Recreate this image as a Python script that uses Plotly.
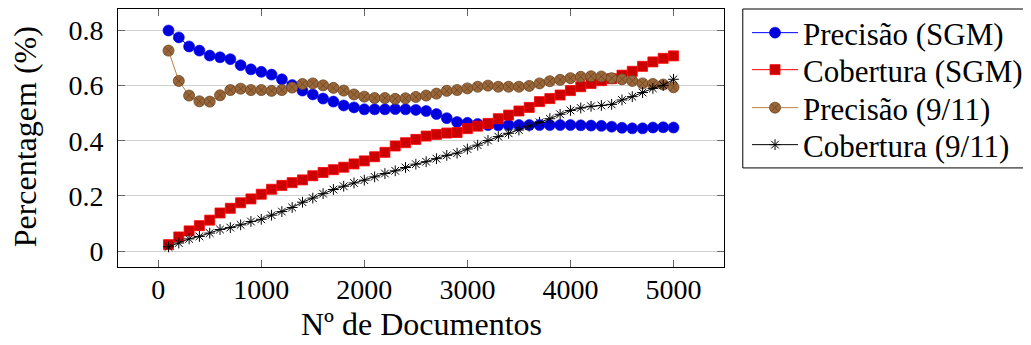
import plotly.graph_objects as go

docs = list(range(100, 5001, 100))

prec_sgm = [0.800, 0.775, 0.742, 0.727, 0.709, 0.703, 0.696, 0.674, 0.659, 0.650,
            0.640, 0.623, 0.602, 0.582, 0.568, 0.553, 0.542, 0.528, 0.521, 0.514,
            0.514, 0.514, 0.515, 0.514, 0.512, 0.508, 0.497, 0.482, 0.468, 0.465,
            0.461, 0.457, 0.456, 0.457, 0.457, 0.457, 0.457, 0.457, 0.457, 0.457,
            0.456, 0.455, 0.454, 0.451, 0.447, 0.445, 0.445, 0.448, 0.449, 0.448]

cob_sgm = [0.023, 0.051, 0.073, 0.092, 0.112, 0.138, 0.155, 0.175, 0.189, 0.206,
           0.224, 0.238, 0.248, 0.258, 0.273, 0.285, 0.295, 0.304, 0.316, 0.327,
           0.342, 0.358, 0.381, 0.393, 0.405, 0.417, 0.423, 0.428, 0.430, 0.444,
           0.453, 0.463, 0.480, 0.493, 0.508, 0.521, 0.542, 0.553, 0.566, 0.582,
           0.596, 0.608, 0.618, 0.625, 0.638, 0.652, 0.670, 0.686, 0.699, 0.708]

prec_911 = [0.727, 0.617, 0.564, 0.543, 0.542, 0.565, 0.584, 0.589, 0.584, 0.584,
            0.581, 0.584, 0.593, 0.606, 0.608, 0.601, 0.592, 0.582, 0.568, 0.560,
            0.555, 0.555, 0.552, 0.554, 0.559, 0.564, 0.571, 0.581, 0.584, 0.590,
            0.596, 0.600, 0.596, 0.596, 0.596, 0.599, 0.608, 0.616, 0.621, 0.627,
            0.632, 0.634, 0.633, 0.627, 0.623, 0.617, 0.608, 0.606, 0.604, 0.594]

cob_911 = [0.015, 0.029, 0.044, 0.053, 0.065, 0.078, 0.085, 0.095, 0.107, 0.115,
           0.130, 0.143, 0.158, 0.177, 0.192, 0.208, 0.223, 0.235, 0.247, 0.257,
           0.269, 0.281, 0.291, 0.303, 0.315, 0.324, 0.335, 0.347, 0.355, 0.370,
           0.384, 0.401, 0.415, 0.427, 0.439, 0.453, 0.467, 0.480, 0.496, 0.510,
           0.519, 0.525, 0.528, 0.532, 0.548, 0.560, 0.575, 0.590, 0.601, 0.623]

x_ticks = [0, 1000, 2000, 3000, 4000, 5000]
y_ticks = [0, 0.2, 0.4, 0.6, 0.8]
y_tick_labels = ["0", "0.2", "0.4", "0.6", "0.8"]

names = ["Precisão (SGM)", "Cobertura (SGM)", "Precisão (9/11)", "Cobertura (9/11)"]
x_title = "Nº de Documentos"
y_title = "Percentagem (%)"

SERIF = '"Liberation Serif", "Times New Roman", Times, serif'

fig = go.Figure()
fig.add_trace(go.Scatter(
    x=docs, y=prec_sgm, name=names[0], mode="lines+markers", legend="legend",
    line=dict(color="#0000ff", width=1),
    marker=dict(symbol="circle", size=11, color="#0000dd", line=dict(color="#0000ff", width=0.6))))
fig.add_trace(go.Scatter(
    x=docs, y=cob_sgm, name=names[1], mode="lines+markers", legend="legend2",
    line=dict(color="#ff0000", width=1),
    marker=dict(symbol="square", size=10, color="#cc0000", line=dict(color="#ff0000", width=0.8))))
fig.add_trace(go.Scatter(
    x=docs, y=prec_911, name=names[2], mode="lines+markers", legend="legend3",
    line=dict(color="#bf8040", width=1),
    marker=dict(symbol="circle-x", size=11, color="#99663a", line=dict(color="#6b4420", width=0.8))))
fig.add_trace(go.Scatter(
    x=docs, y=cob_911, name=names[3], mode="lines+markers", legend="legend4",
    line=dict(color="#000000", width=1),
    marker=dict(symbol="asterisk-open", size=9, color="#000000", line=dict(color="#000000", width=1))))

# plot area in figure pixels: left 110, right 716, top 1, bottom 259
leg_common = dict(xanchor="left", yanchor="middle", borderwidth=0,
                  bgcolor="rgba(0,0,0,0)", itemwidth=46,
                  font=dict(family=SERIF, size=31))
leg_x = 1.038
leg_ys = [0.907, 0.7636, 0.6163, 0.4729]

fig.update_layout(
    width=1023, height=337,
    margin=dict(l=110, r=307, t=1, b=78, autoexpand=False),
    paper_bgcolor="white", plot_bgcolor="white",
    font=dict(family=SERIF, size=28, color="black"),
    showlegend=True,
    legend=dict(x=leg_x, y=leg_ys[0], **leg_common),
    legend2=dict(x=leg_x, y=leg_ys[1], **leg_common),
    legend3=dict(x=leg_x, y=leg_ys[2], **leg_common),
    legend4=dict(x=leg_x, y=leg_ys[3], **leg_common),
    shapes=[dict(type="rect", xref="paper", yref="paper",
                 x0=1.031, x1=1.505, y0=0.384, y1=1.0,
                 line=dict(color="black", width=1), fillcolor="white", layer="below")],
    annotations=[
        dict(text=x_title, xref="paper", yref="paper", x=0.5, y=-0.22,
             xanchor="center", yanchor="middle", showarrow=False,
             font=dict(family=SERIF, size=32)),
        dict(text=y_title, xref="paper", yref="paper", x=-0.152, y=0.506,
             xanchor="center", yanchor="middle", showarrow=False, textangle=-90,
             font=dict(family=SERIF, size=32)),
    ],
)
fig.update_xaxes(
    range=[-390, 5490], tickvals=x_ticks, ticktext=[str(v) for v in x_ticks],
    showgrid=False, zeroline=False, showline=True, linecolor="black", linewidth=1,
    mirror="ticks", ticks="inside", ticklen=7, tickcolor="#666666",
    tickfont=dict(family=SERIF, size=28), ticklabelstandoff=-3,
)
fig.update_yaxes(
    range=[-0.058, 0.878], tickvals=y_ticks, ticktext=y_tick_labels,
    showgrid=True, gridcolor="#d0d0d0", gridwidth=1, zeroline=False,
    showline=True, linecolor="black", linewidth=1,
    mirror="ticks", ticks="inside", ticklen=7, tickcolor="#666666",
    tickfont=dict(family=SERIF, size=28), ticklabelstandoff=8,
)

fig.write_html("out.html")
